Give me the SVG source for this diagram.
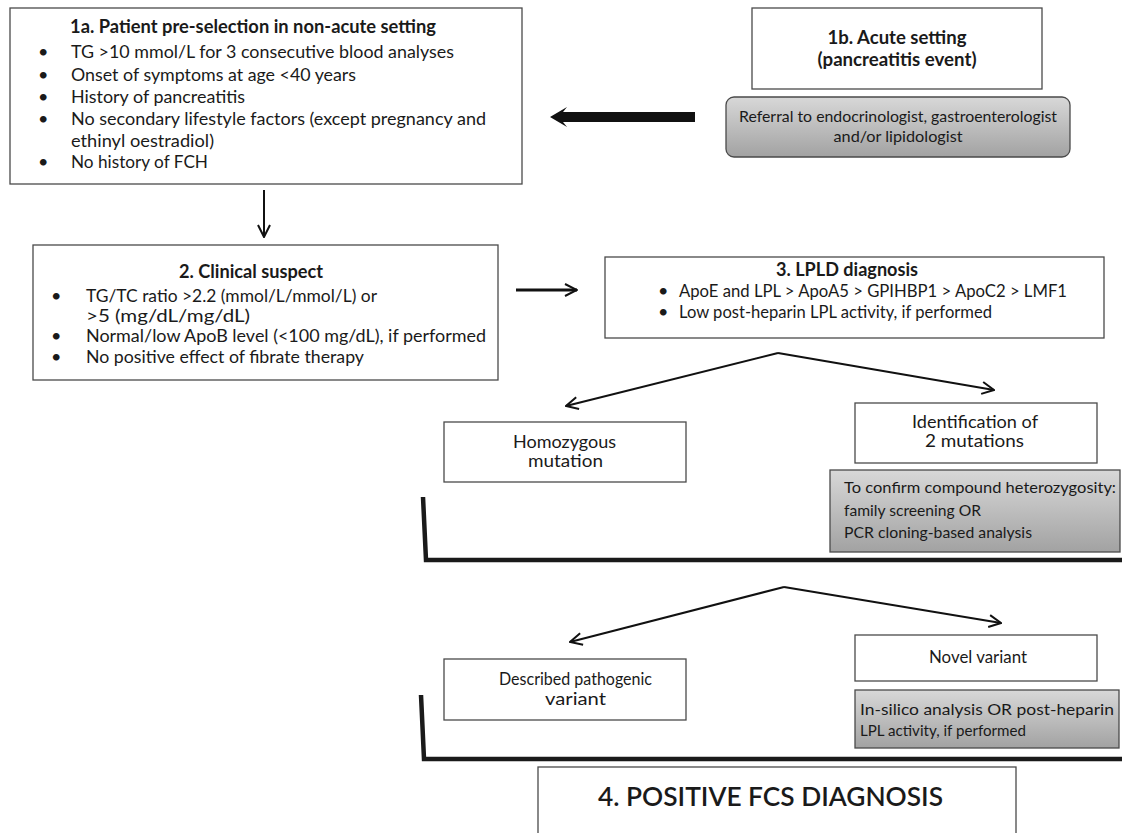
<svg xmlns="http://www.w3.org/2000/svg" width="1122" height="833" viewBox="0 0 1122 833">
<style>
.box{fill:#fff;stroke:#4a4a4a;stroke-width:1.3}
.gbox{fill:url(#g);stroke:#4a4a4a;stroke-width:1.3}
.t{font-family:Lato,"Liberation Sans",sans-serif;font-size:18px;fill:#1a1a1a}
.b{font-weight:bold}
.s{font-size:16px}
.m{font-size:17px}
.c{text-anchor:middle}
.ln{fill:none;stroke:#111;stroke-width:2}
.br{fill:none;stroke:#1a1a1a;stroke-width:4.5;stroke-linejoin:miter}
</style>
<defs>
<linearGradient id="g" x1="0" y1="0" x2="0" y2="1">
<stop offset="0" stop-color="#d8d8d8"/>
<stop offset="1" stop-color="#a2a2a2"/>
</linearGradient>
<marker id="v" viewBox="0 0 14 14" refX="13" refY="7" markerWidth="14" markerHeight="14" orient="auto" markerUnits="userSpaceOnUse">
<path d="M1,1 L13,7 L1,13" fill="none" stroke="#111" stroke-width="2"/>
</marker>
</defs>
<g id="n1a">
<rect class="box" x="10" y="8" width="512" height="176"/>
<text class="t b" x="70" y="33" textLength="366" lengthAdjust="spacingAndGlyphs">1a. Patient pre-selection in non-acute setting</text>
<g class="t">
<text x="38" y="58">•</text><text x="71" y="58" textLength="383" lengthAdjust="spacingAndGlyphs">TG &gt;10 mmol/L for 3 consecutive blood analyses</text>
<text x="38" y="81">•</text><text x="71" y="81" textLength="285" lengthAdjust="spacingAndGlyphs">Onset of symptoms at age &lt;40 years</text>
<text x="38" y="103">•</text><text x="71" y="103" textLength="174" lengthAdjust="spacingAndGlyphs">History of pancreatitis</text>
<text x="38" y="125">•</text><text x="71" y="125" textLength="415" lengthAdjust="spacingAndGlyphs">No secondary lifestyle factors (except pregnancy and</text>
<text x="71" y="147" textLength="143" lengthAdjust="spacingAndGlyphs">ethinyl oestradiol)</text>
<text x="38" y="168">•</text><text x="71" y="168" textLength="137" lengthAdjust="spacingAndGlyphs">No history of FCH</text>
</g>
</g>
<g id="n1b">
<rect class="box" x="752" y="8" width="290" height="81"/>
<text class="t b c" x="897" y="44" textLength="139" lengthAdjust="spacingAndGlyphs">1b. Acute setting</text>
<text class="t b c" x="897" y="66" textLength="159" lengthAdjust="spacingAndGlyphs">(pancreatitis event)</text>
</g>
<g id="nref">
<rect class="gbox" x="726" y="97" width="344" height="60" rx="8"/>
<text class="t s c" x="898" y="122" textLength="318" lengthAdjust="spacingAndGlyphs">Referral to endocrinologist, gastroenterologist</text>
<text class="t s c" x="898" y="142" textLength="129" lengthAdjust="spacingAndGlyphs">and/or lipidologist</text>
</g>
<g id="n2">
<rect class="box" x="33" y="245" width="465" height="135"/>
<text class="t b" x="179" y="278" textLength="144" lengthAdjust="spacingAndGlyphs">2. Clinical suspect</text>
<g class="t">
<text x="51" y="302">•</text><text x="86" y="302" textLength="291" lengthAdjust="spacingAndGlyphs">TG/TC ratio &gt;2.2 (mmol/L/mmol/L) or</text>
<text x="86" y="322" textLength="164" lengthAdjust="spacingAndGlyphs">&gt;5 (mg/dL/mg/dL)</text>
<text x="51" y="342">•</text><text x="86" y="342" textLength="400" lengthAdjust="spacingAndGlyphs">Normal/low ApoB level (&lt;100 mg/dL), if performed</text>
<text x="51" y="363">•</text><text x="86" y="363" textLength="278" lengthAdjust="spacingAndGlyphs">No positive effect of fibrate therapy</text>
</g>
</g>
<g id="n3">
<rect class="box" x="605" y="257" width="499" height="81"/>
<text class="t b" x="776" y="276" textLength="142" lengthAdjust="spacingAndGlyphs">3. LPLD diagnosis</text>
<g class="t">
<text x="658" y="297">•</text><text x="679" y="297" textLength="388" lengthAdjust="spacingAndGlyphs">ApoE and LPL &gt; ApoA5 &gt; GPIHBP1 &gt; ApoC2 &gt; LMF1</text>
<text x="658" y="318">•</text><text x="679" y="318" textLength="313" lengthAdjust="spacingAndGlyphs">Low post-heparin LPL activity, if performed</text>
</g>
</g>
<g id="nhomo">
<rect class="box" x="444" y="422" width="242" height="60"/>
<text class="t m" x="513" y="448" textLength="103" lengthAdjust="spacingAndGlyphs">Homozygous</text>
<text class="t m" x="528" y="467" textLength="75" lengthAdjust="spacingAndGlyphs">mutation</text>
</g>
<g id="nident">
<rect class="box" x="855" y="403" width="242" height="60"/>
<text class="t m" x="912" y="428" textLength="126" lengthAdjust="spacingAndGlyphs">Identification of</text>
<text class="t m" x="925" y="447" textLength="99" lengthAdjust="spacingAndGlyphs">2 mutations</text>
</g>
<g id="nconfirm">
<rect class="gbox" x="830" y="470" width="290" height="82"/>
<text class="t s" x="844" y="493" textLength="272" lengthAdjust="spacingAndGlyphs">To confirm compound heterozygosity:</text>
<text class="t s" x="844" y="516" textLength="137" lengthAdjust="spacingAndGlyphs">family screening OR</text>
<text class="t s" x="844" y="538" textLength="188" lengthAdjust="spacingAndGlyphs">PCR cloning-based analysis</text>
</g>
<g id="ndesc">
<rect class="box" x="444" y="659" width="242" height="61"/>
<text class="t m" x="499" y="685" textLength="153" lengthAdjust="spacingAndGlyphs">Described pathogenic</text>
<text class="t m" x="545" y="705" textLength="61" lengthAdjust="spacingAndGlyphs">variant</text>
</g>
<g id="nnovel">
<rect class="box" x="855" y="635" width="242" height="46"/>
<text class="t m" x="929" y="663" textLength="98" lengthAdjust="spacingAndGlyphs">Novel variant</text>
</g>
<g id="nsilico">
<rect class="gbox" x="855" y="690" width="264" height="58"/>
<text class="t s" x="860" y="715" textLength="254" lengthAdjust="spacingAndGlyphs">In-silico analysis OR post-heparin</text>
<text class="t s" x="860" y="736" textLength="166" lengthAdjust="spacingAndGlyphs">LPL activity, if performed</text>
</g>
<g id="n4">
<rect class="box" x="538" y="767" width="478" height="80"/>
<text class="t" x="598" y="806" style="font-size:27px;font-weight:600" textLength="345" lengthAdjust="spacingAndGlyphs">4. POSITIVE FCS DIAGNOSIS</text>
</g>
<g id="connectors">
<polygon points="550,117 567,107 563,112 695,112 695,122 563,122 567,127" fill="#111"/>
<line class="ln" x1="264" y1="190" x2="264" y2="237" marker-end="url(#v)"/>
<line class="ln" x1="516" y1="290" x2="577" y2="290" style="stroke-width:3" marker-end="url(#v)"/>
<line class="ln" x1="778" y1="353" x2="566" y2="406" marker-end="url(#v)"/>
<line class="ln" x1="778" y1="353" x2="994" y2="390" marker-end="url(#v)"/>
<line class="ln" x1="784" y1="587" x2="570" y2="642" marker-end="url(#v)"/>
<line class="ln" x1="784" y1="587" x2="1001" y2="623" marker-end="url(#v)"/>
<path class="br" d="M423,497 L426,560 L1122,560"/>
<path class="br" d="M421,695 L424,759 L1122,759"/>
</g>
</svg>
